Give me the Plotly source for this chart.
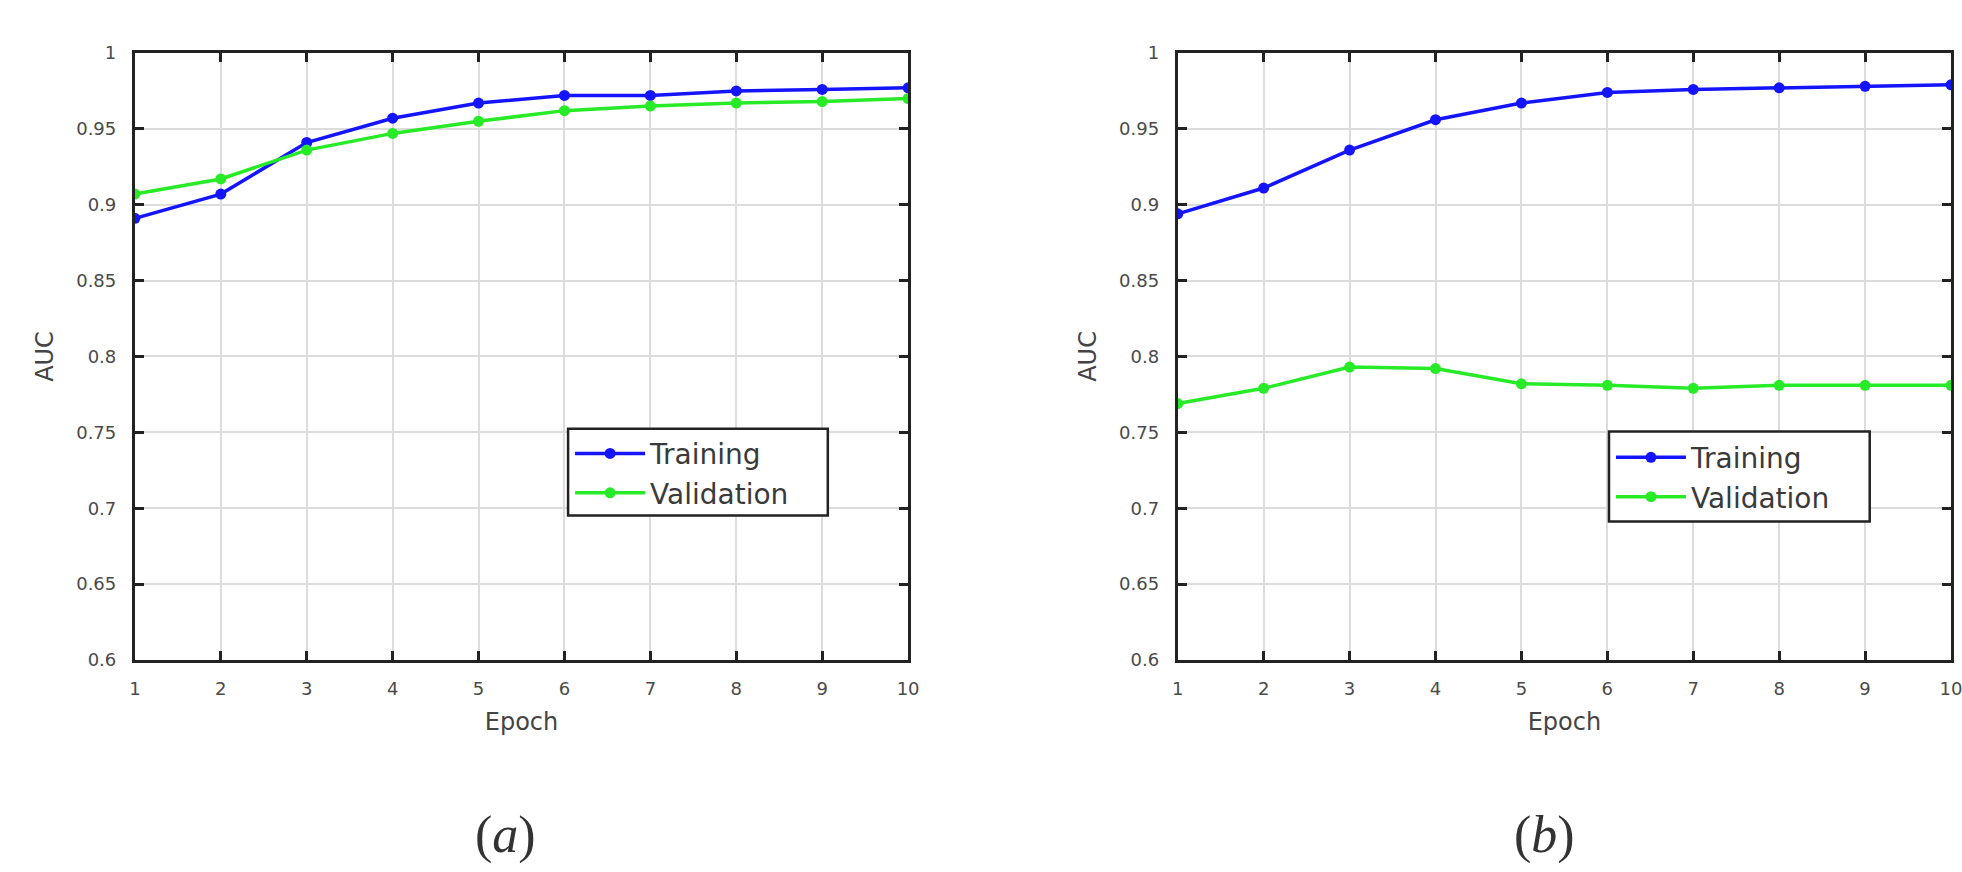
import plotly.graph_objects as go

epochs = [1, 2, 3, 4, 5, 6, 7, 8, 9, 10]

# (a)
train_a = [0.891, 0.907, 0.941, 0.957, 0.967, 0.972, 0.972, 0.975, 0.976, 0.977]
valid_a = [0.907, 0.917, 0.936, 0.947, 0.955, 0.962, 0.965, 0.967, 0.968, 0.970]

# (b)
train_b = [0.894, 0.911, 0.936, 0.956, 0.967, 0.974, 0.976, 0.977, 0.978, 0.979]
valid_b = [0.769, 0.779, 0.793, 0.792, 0.782, 0.781, 0.779, 0.781, 0.781, 0.781]

y_ticks = [0.6, 0.65, 0.7, 0.75, 0.8, 0.85, 0.9, 0.95, 1.0]
y_tick_labels = ["0.6", "0.65", "0.7", "0.75", "0.8", "0.85", "0.9", "0.95", "1"]
x_tick_labels = ["1", "2", "3", "4", "5", "6", "7", "8", "9", "10"]

panel_labels = ["(<i>a</i>)", "(<i>b</i>)"]
series_names = ["Training", "Validation"]

BLUE = "rgb(20,20,255)"
GREEN = "rgb(40,235,40)"
SANS = "DejaVu Sans, Verdana, sans-serif"
W, H = 1962, 872

fig = go.Figure()


def add_pair(train, valid, xa, ya, legend):
    fig.add_trace(go.Scatter(
        x=epochs, y=train, mode="lines+markers", name=series_names[0],
        line=dict(color=BLUE, width=3.5), marker=dict(color=BLUE, size=11),
        xaxis=xa, yaxis=ya, legend=legend))
    fig.add_trace(go.Scatter(
        x=epochs, y=valid, mode="lines+markers", name=series_names[1],
        line=dict(color=GREEN, width=3.5), marker=dict(color=GREEN, size=11),
        xaxis=xa, yaxis=ya, legend=legend))


add_pair(train_a, valid_a, "x", "y", "legend")
add_pair(train_b, valid_b, "x2", "y2", "legend2")

tick_font = dict(family=SANS, size=18, color="#4a4a4a")
title_font = dict(family=SANS, size=24, color="#444")

xaxis_common = dict(
    range=[1, 10], tickvals=epochs, ticktext=x_tick_labels,
    showgrid=True, gridcolor="#dcdcdc", gridwidth=2,
    showline=True, linecolor="#222", linewidth=3, mirror="ticks",
    ticks="inside", ticklen=9, tickwidth=2.5, tickcolor="#222",
    tickfont=tick_font, zeroline=False, ticklabelstandoff=10,
    ticklabeloverflow="allow",
    title=dict(text="Epoch", font=title_font, standoff=16),
)
yaxis_common = dict(
    range=[0.6, 1.0], tickvals=y_ticks, ticktext=y_tick_labels,
    showgrid=True, gridcolor="#dcdcdc", gridwidth=2,
    showline=True, linecolor="#222", linewidth=3, mirror="ticks",
    ticks="inside", ticklen=9, tickwidth=2.5, tickcolor="#222",
    tickfont=tick_font, zeroline=False, ticklabelstandoff=12,
    title=dict(text="AUC", font=title_font, standoff=16),
)

y_dom = [1 - 665 / H, 1 - 43 / H]

legend_common = dict(
    bgcolor="rgba(0,0,0,0)", borderwidth=0,
    font=dict(family=SANS, size=28, color="#3a3a3a"),
    xanchor="left", yanchor="top", itemwidth=70, tracegroupgap=0,
)

# legend frames (px in the page): left, top, right, bottom
legend_boxes = [(567, 428, 829, 517), (1617, 431, 1880, 523)]

fig.update_layout(
    width=W, height=H, autosize=False,
    margin=dict(l=0, r=0, t=0, b=0),
    paper_bgcolor="white", plot_bgcolor="white",
    xaxis=dict(domain=[130 / W, 910 / W], anchor="y", **xaxis_common),
    yaxis=dict(domain=y_dom, anchor="x", **yaxis_common),
    xaxis2=dict(domain=[1182 / W, 1.0], anchor="y2", **xaxis_common),
    yaxis2=dict(domain=y_dom, anchor="x2", **yaxis_common),
    legend=dict(x=569 / W, y=1 - 428 / H, **legend_common),
    legend2=dict(x=1619 / W, y=1 - 432 / H, **legend_common),
    showlegend=True,
)

for (l, t, r, b) in legend_boxes:
    fig.add_shape(
        type="rect", xref="paper", yref="paper",
        x0=l / W, x1=r / W, y0=1 - b / H, y1=1 - t / H,
        fillcolor="white", line=dict(color="#222", width=2.5), layer="above",
    )

for txt, xc in zip(panel_labels, [504 / W, 1552 / W]):
    fig.add_annotation(
        text=txt, x=xc, y=1 - 844 / H, xref="paper", yref="paper",
        xanchor="center", yanchor="middle", showarrow=False,
        font=dict(family="Liberation Serif, Times New Roman, serif", size=52, color="#333"),
    )

fig.write_html("out.html", config={"displayModeBar": False},
               post_script="document.body.style.margin='0';")
